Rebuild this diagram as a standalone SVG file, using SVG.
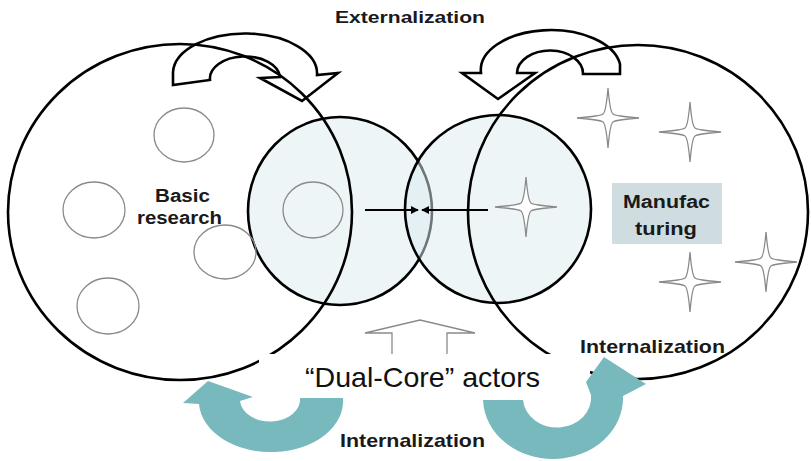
<svg xmlns="http://www.w3.org/2000/svg" xmlns:xlink="http://www.w3.org/1999/xlink" width="811" height="461" viewBox="0 0 811 461">
<style>
.big{fill:none;stroke:#000;stroke-width:2.6}
.core{fill:#dcecf0;fill-opacity:0.5;stroke:#000;stroke-width:2.6}
.thin{fill:none;stroke:#8a8a8a;stroke-width:1.3}
.star{fill:#fff;stroke:#8a8a8a;stroke-width:1.3}
.ext{fill:none;stroke:#000;stroke-width:2.6;stroke-linejoin:miter}
.teal{fill:#78b9be;stroke:none}
.lbl{font-family:"Liberation Sans",Arial,sans-serif;font-weight:bold;fill:#1a1a1a}
.main{font-family:"Liberation Sans",Arial,sans-serif;font-size:28px;fill:#111}
.link{stroke:#000;stroke-width:2;fill:none}
</style>
<defs>
<path id="starShape" d="M0,-30 Q2,-6 5,-4 Q7,-2 31,0 Q7,2 5,4 Q2,6 0,30 Q-2,6 -5,4 Q-7,2 -31,0 Q-7,-2 -5,-4 Q-2,-6 0,-30 Z"/>
<marker id="ah" viewBox="0 0 10 10" refX="9" refY="5" markerWidth="4" markerHeight="4" orient="auto">
<path d="M0,0 L10,5 L0,10 Z" fill="#000"/>
</marker>
</defs>
<rect width="811" height="461" fill="#fff"/>

<g id="core-left">
<ellipse class="core" cx="340" cy="211" rx="92" ry="94"/>
<ellipse class="thin" cx="313" cy="210" rx="30" ry="28"/>
</g>
<g id="core-right">
<ellipse class="core" cx="498" cy="209" rx="93" ry="94"/>
<use href="#starShape" class="star" x="526" y="207"/>
</g>

<g id="basic-research">
<ellipse class="big" cx="180" cy="212" rx="172" ry="168"/>
<ellipse class="thin" cx="184" cy="135" rx="30" ry="27"/>
<ellipse class="thin" cx="94" cy="210" rx="31" ry="28"/>
<ellipse class="thin" cx="225" cy="252" rx="31" ry="27"/>
<ellipse class="thin" cx="108" cy="306" rx="31" ry="28"/>
<text class="lbl" x="155" y="202" font-size="18" textLength="55" lengthAdjust="spacingAndGlyphs">Basic</text>
<text class="lbl" x="137" y="224" font-size="18" textLength="85" lengthAdjust="spacingAndGlyphs">research</text>
</g>

<g id="manufacturing">
<ellipse class="big" cx="638" cy="212" rx="170" ry="167"/>
<use href="#starShape" class="star" x="608" y="118"/>
<use href="#starShape" class="star" x="690" y="132"/>
<use href="#starShape" class="star" x="690" y="282"/>
<use href="#starShape" class="star" x="766" y="262"/>
<rect x="612" y="183" width="110" height="61" fill="#cfdde0"/>
<text class="lbl" x="623" y="208" font-size="18" textLength="87" lengthAdjust="spacingAndGlyphs">Manufac</text>
<text class="lbl" x="635" y="235" font-size="18" textLength="62" lengthAdjust="spacingAndGlyphs">turing</text>
</g>

<g id="connectors">
<path class="thin" d="M392,358 V333 H365 L420,320 L475,333 H447 V358"/>
<line class="link" x1="365" y1="210" x2="418" y2="210" marker-end="url(#ah)"/>
<line class="link" x1="488" y1="210" x2="422" y2="210" marker-end="url(#ah)"/>
<path class="ext" d="M173,85 L173,72 A72,40 0 0 1 317,75 L338,73 L302,101 L260,78 L280,77 A35,22 0 0 0 210,80 Z"/>
<path class="ext" d="M620,74 L620,64 A70,40 0 0 0 481,73 L462,73 L498,99 L535,73 L517,73 A33,23 0 0 1 583,74 Z"/>
</g>

<g id="dual-core">
<rect x="259" y="354" width="331" height="50" fill="#fff"/>
<text class="main" x="305" y="387" textLength="235" lengthAdjust="spacingAndGlyphs">“Dual-Core” actors</text>
</g>

<g id="internalization-arrows">
<path class="teal" d="M343,398 A72,51 0 0 1 199,404 L183,403 L208,381 L253,397 L240,401 A30,22 0 0 0 300,398 Z"/>
<path class="teal" d="M483,400 A70,61 0 0 0 623,396 L646,384 L604,357 L586,382 L591,395 A34,30 0 0 1 523,400 Z"/>
</g>

<g id="labels">
<text class="lbl" x="335" y="23" font-size="17" textLength="150" lengthAdjust="spacingAndGlyphs">Externalization</text>
<text class="lbl" x="580" y="353" font-size="19" textLength="145" lengthAdjust="spacingAndGlyphs">Internalization</text>
<text class="lbl" x="340" y="447" font-size="19" textLength="145" lengthAdjust="spacingAndGlyphs">Internalization</text>
</g>
</svg>
